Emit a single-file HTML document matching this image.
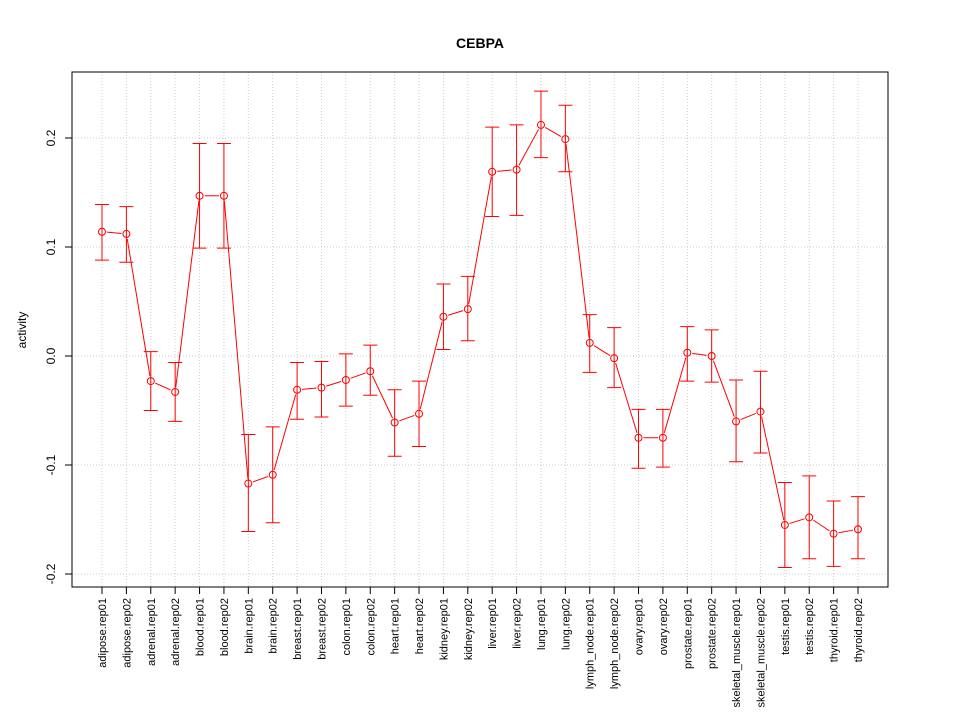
<!DOCTYPE html>
<html><head><meta charset="utf-8"><style>
html,body{margin:0;padding:0;background:#fff;}
svg{display:block;font-family:"Liberation Sans",sans-serif;}
</style></head><body>
<svg id="chart" width="960" height="720">
<text x="480" y="48" text-anchor="middle" font-size="14" font-weight="bold">CEBPA</text>
<g id="grid"></g>
<g id="marks"></g>
<rect x="72" y="72" width="816" height="515" fill="none" stroke="#000"/>
<g id="yaxis"></g>
<g id="xaxis"></g>
<text transform="translate(26,330) rotate(-90)" text-anchor="middle" font-size="12">activity</text>
</svg>
<script>
const categories=["adipose.rep01","adipose.rep02","adrenal.rep01","adrenal.rep02","blood.rep01","blood.rep02","brain.rep01","brain.rep02","breast.rep01","breast.rep02","colon.rep01","colon.rep02","heart.rep01","heart.rep02","kidney.rep01","kidney.rep02","liver.rep01","liver.rep02","lung.rep01","lung.rep02","lymph_node.rep01","lymph_node.rep02","ovary.rep01","ovary.rep02","prostate.rep01","prostate.rep02","skeletal_muscle.rep01","skeletal_muscle.rep02","testis.rep01","testis.rep02","thyroid.rep01","thyroid.rep02"];
const values=[0.114,0.112,-0.023,-0.033,0.147,0.147,-0.117,-0.109,-0.031,-0.029,-0.022,-0.014,-0.061,-0.053,0.036,0.043,0.169,0.171,0.212,0.199,0.012,-0.002,-0.075,-0.075,0.003,0.000,-0.060,-0.051,-0.155,-0.148,-0.163,-0.159];
const upper=[0.139,0.137,0.004,-0.006,0.195,0.195,-0.072,-0.065,-0.006,-0.005,0.002,0.010,-0.031,-0.023,0.066,0.073,0.210,0.212,0.243,0.230,0.038,0.026,-0.049,-0.049,0.027,0.024,-0.022,-0.014,-0.116,-0.110,-0.133,-0.129];
const lower=[0.088,0.086,-0.050,-0.060,0.099,0.099,-0.161,-0.153,-0.058,-0.056,-0.046,-0.036,-0.092,-0.083,0.006,0.014,0.128,0.129,0.182,0.169,-0.015,-0.029,-0.103,-0.102,-0.023,-0.024,-0.097,-0.089,-0.194,-0.186,-0.193,-0.186];
const yTicks=[-0.2,-0.1,0.0,0.1,0.2];
const yTickLabels=["-0.2","-0.1","0.0","0.1","0.2"];
const NS="http://www.w3.org/2000/svg";
const xs=i=>102+i*(756/(categories.length-1));
const ys=v=>356-v*1090;
function mk(tag,attrs,parent){const e=document.createElementNS(NS,tag);for(const k in attrs)e.setAttribute(k,attrs[k]);parent.appendChild(e);return e;}
const grid=document.getElementById('grid'),marks=document.getElementById('marks'),ya=document.getElementById('yaxis'),xa=document.getElementById('xaxis');
categories.forEach((c,i)=>{
 const g=mk('line',{x1:xs(i),x2:xs(i),y1:72,y2:587,stroke:'#ccc','stroke-dasharray':'1,2'},grid);
 
 
 const t=mk('line',{x1:xs(i),x2:xs(i),y1:587,y2:594,stroke:'#000'},xa);
 
 
 const l=mk('text',{transform:`translate(${xs(i)+4},598) rotate(-90)`,'text-anchor':'end','font-size':'11'},xa);
 l.textContent=c;
 
 
});
mk('line',{x1:xs(0),x2:xs(categories.length-1),y1:587,y2:587,stroke:'#000'},xa);
yTicks.forEach((v,i)=>{
 const g=mk('line',{x1:72,x2:888,y1:ys(v),y2:ys(v),stroke:'#ccc','stroke-dasharray':'1,2'},grid);
 
 
 const t=mk('line',{x1:65,x2:72,y1:ys(v),y2:ys(v),stroke:'#000'},ya);
 
 
 const l=mk('text',{transform:`translate(55,${ys(v)}) rotate(-90)`,'text-anchor':'middle','font-size':'12'},ya);
 l.textContent=yTickLabels[i];
 
 
});
const col='#ff0000',r=3.5;
for(let i=0;i<values.length-1;i++){
 const x1=xs(i),y1=ys(values[i]),x2=xs(i+1),y2=ys(values[i+1]);
 const d=Math.hypot(x2-x1,y2-y1),g=r+1.5;
 if(d>2*g){const ux=(x2-x1)/d,uy=(y2-y1)/d;
  const s=mk('line',{x1:x1+ux*g,y1:y1+uy*g,x2:x2-ux*g,y2:y2-uy*g,stroke:col},marks);
  
  }
}
values.forEach((v,i)=>{
 const x=xs(i);
 const e=mk('path',{d:`M${x},${ys(upper[i])}V${ys(lower[i])}M${x-7},${ys(upper[i])}H${x+7}M${x-7},${ys(lower[i])}H${x+7}`,stroke:col,fill:'none'},marks);
 
 
 const c=mk('circle',{cx:x,cy:ys(v),r:r,stroke:col,fill:'none'},marks);
 
 
});
</script>
</body></html>
